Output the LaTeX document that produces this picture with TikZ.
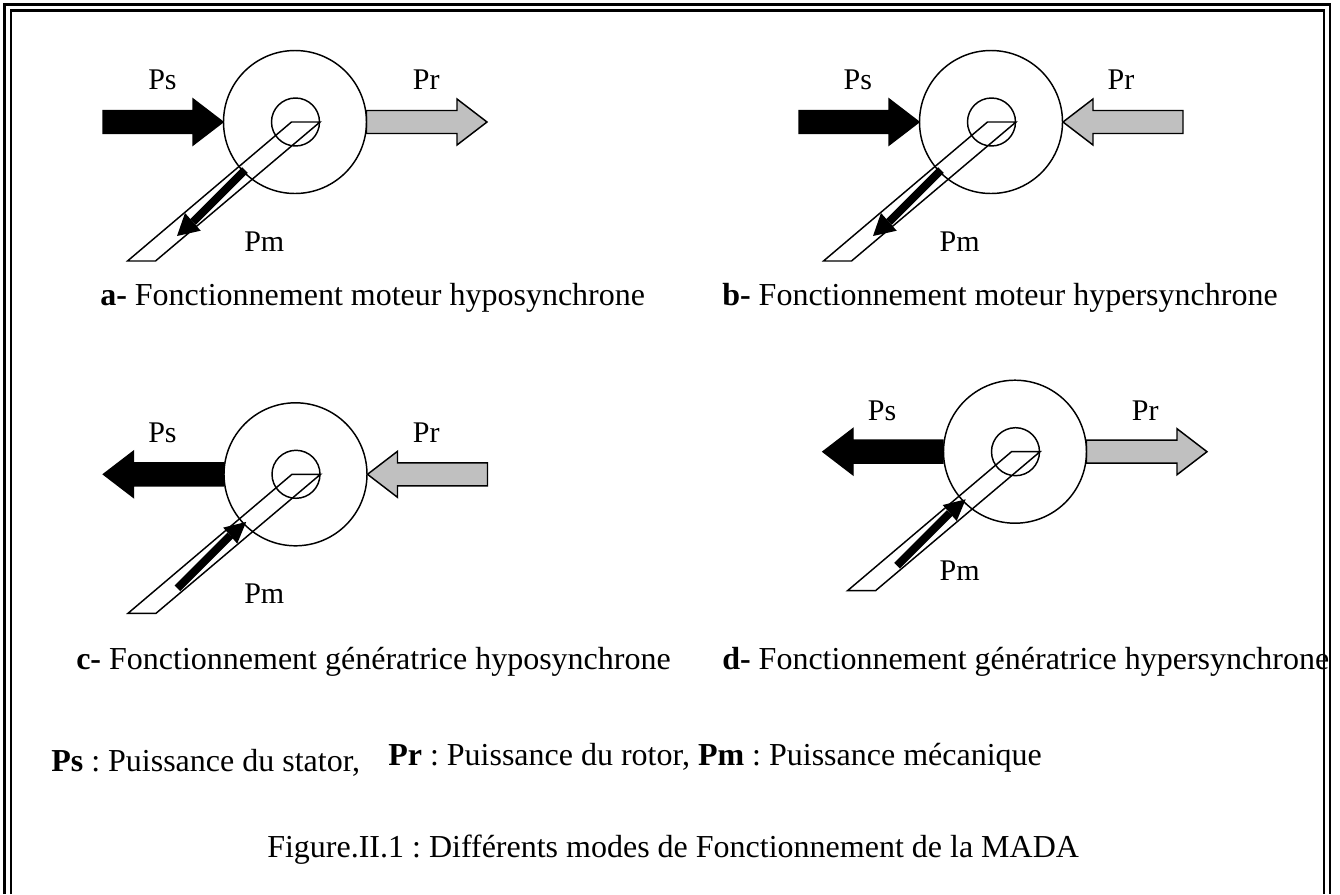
\documentclass[tikz,border=0pt]{standalone}
\usepackage{fontspec}
\setmainfont{Liberation Serif}
\definecolor{arrowgrey}{HTML}{C0C0C0}
\tikzset{
  x=0.75pt,y=-0.75pt,
  outline/.style={draw=black,line width=1.1pt},
  frameline/.style={draw=black,line width=1.6pt},
  blackarrow/.style={fill=black,draw=black,line width=1.1pt},
  greyarrow/.style={fill=arrowgrey,draw=black,line width=1.1pt},
  lab/.style={anchor=base west,inner sep=0pt,font=\fontsize{22.5}{24}\selectfont},
  captext/.style={anchor=base west,inner sep=0pt,font=\fontsize{24}{26}\selectfont\frenchspacing},
}
\newcommand{\machinebody}{
  \draw[outline] (0,0) circle[radius=71.5];
  \draw[outline] (0.5,0) circle[radius=24];
  \draw[outline] (-3.5,0) -- (25,0) -- (-139.5,139) -- (-167.5,139) -- cycle;
}
\newcommand{\psin}{\fill[blackarrow] (-192,-11.5) -- (-102,-11.5) -- (-102,-23) -- (-72,0) -- (-102,23) -- (-102,11.5) -- (-192,11.5) -- cycle;}
\newcommand{\psout}{\fill[blackarrow] (-72,-11.5) -- (-162,-11.5) -- (-162,-23) -- (-192,0) -- (-162,23) -- (-162,11.5) -- (-72,11.5) -- cycle;}
\newcommand{\prout}{\fill[greyarrow] (71.5,-11.5) -- (162,-11.5) -- (162,-23) -- (192,0) -- (162,23) -- (162,11.5) -- (71.5,11.5) -- cycle;}
\newcommand{\prin}{\fill[greyarrow] (192,-11.5) -- (102,-11.5) -- (102,-23) -- (72,0) -- (102,23) -- (102,11.5) -- (192,11.5) -- cycle;}
\newcommand{\pmdown}{\draw[draw=black,line width=6pt] (-50,48) -- (-102,100); \fill[black] (-110,91) -- (-118,114) -- (-94.3,108.7) -- cycle;}
\newcommand{\pmup}{\draw[draw=black,line width=6pt] (-118,114) -- (-65.3,61.3); \fill[black] (-72.3,53.3) -- (-49.3,47.6) -- (-58.3,69.3) -- cycle;}
\begin{document}
\begin{tikzpicture}
\useasboundingbox (0,0) rectangle (1340,894);
\fill[white] (0,0) rectangle (1340,894);
% frame
\draw[frameline] (4.5,894) -- (4.5,4.5) -- (1330,4.5) -- (1330,894);
\draw[frameline] (11,894) -- (11,10.5) -- (1324,10.5) -- (1324,894);
% a
\begin{scope}[shift={(295,122)}]\psin\prout\machinebody\pmdown\end{scope}
% b
\begin{scope}[shift={(991,122)}]\psin\prin\machinebody\pmdown\end{scope}
% c
\begin{scope}[shift={(295.5,474.3)}]\psout\prin\machinebody\pmup\end{scope}
% d
\begin{scope}[shift={(1015,451.7)}]\psout\prout\machinebody\pmup\end{scope}
% labels
\node[lab] (psa) at (148,89.3) {Ps};
\node[lab] (pra) at (412.7,89.3) {Pr};
\node[lab] (pma) at (244,251.3) {Pm};
\node[lab] (psb) at (843.3,89.3) {Ps};
\node[lab] (prb) at (1107.3,89.3) {Pr};
\node[lab] (pmb) at (939.3,251.3) {Pm};
\node[lab] (psc) at (148,442.7) {Ps};
\node[lab] (prc) at (412.7,442.7) {Pr};
\node[lab] (pmc) at (244,603.3) {Pm};
\node[lab] (psd) at (867.7,420) {Ps};
\node[lab] (prd) at (1131.7,420) {Pr};
\node[lab] (pmd) at (939.3,580) {Pm};
\node[captext] (capa) at (100,305) {\textbf{a-} Fonctionnement moteur hyposynchrone};
\node[captext] (capb) at (722,305) {\textbf{b-} Fonctionnement moteur hypersynchrone};
\node[captext] (capc) at (76,669) {\textbf{c-} Fonctionnement génératrice hyposynchrone};
\node[captext] (capd) at (722,669) {\textbf{d-} Fonctionnement génératrice hypersynchrone};
\node[captext] (ps) at (51,771) {\textbf{Ps} : Puissance du stator,};
\node[captext] (pr) at (388,765) {\textbf{Pr} : Puissance du rotor, \textbf{Pm} : Puissance mécanique};
\node[captext] (fig) at (267,857) {Figure.II.1 : Différents modes de Fonctionnement de la MADA};
\end{tikzpicture}
\end{document}
